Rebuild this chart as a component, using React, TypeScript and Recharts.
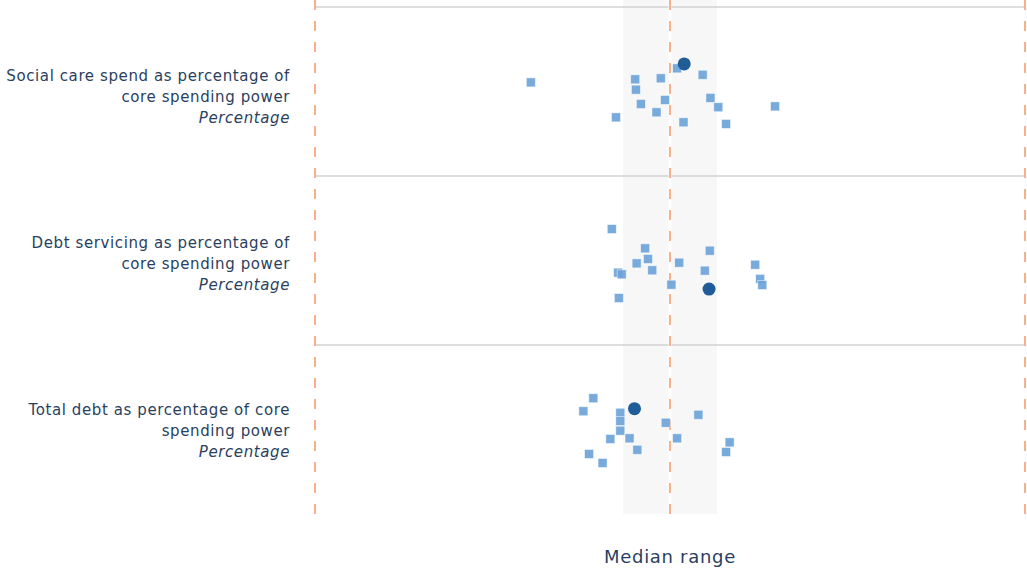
import {
  ScatterChart,
  Scatter,
  XAxis,
  YAxis,
  ReferenceArea,
  ReferenceLine,
} from 'recharts';

// row labels (top to bottom)
const rowLabels = [
  ['Social care spend as percentage of', 'core spending power'],
  ['Debt servicing as percentage of', 'core spending power'],
  ['Total debt as percentage of core', 'spending power'],
];
const unitLabel = 'Percentage';

// x on a 0..100 scale (min .. median .. max), jitter = offset from top of row (0..1)
const socialCareX = [51.0, 30.4, 45.1, 48.7, 54.6, 45.2, 45.9, 49.3, 55.7, 56.8, 64.8, 48.1, 42.4, 51.9, 57.9];
const socialCareJitter = [0.363, 0.446, 0.428, 0.422, 0.401, 0.489, 0.574, 0.55, 0.538, 0.593, 0.588, 0.623, 0.653, 0.682, 0.692];
const debtServicingX = [41.8, 46.5, 55.6, 46.9, 45.3, 51.3, 47.5, 54.9, 62.0, 42.7, 43.2, 62.7, 63.0, 50.2, 42.8];
const debtServicingJitter = [0.314, 0.428, 0.442, 0.491, 0.517, 0.513, 0.558, 0.56, 0.525, 0.572, 0.582, 0.609, 0.645, 0.643, 0.722];
const totalDebtX = [39.2, 37.8, 43.0, 54.0, 43.0, 49.4, 43.0, 41.6, 44.3, 51.0, 58.4, 45.4, 57.9, 38.6, 40.5];
const totalDebtJitter = [0.315, 0.392, 0.401, 0.413, 0.45, 0.46, 0.507, 0.556, 0.552, 0.552, 0.576, 0.62, 0.633, 0.645, 0.698];

// highlighted authority per row
const highlightX = [52.0, 55.5, 45.0];
const highlightJitter = [0.337, 0.669, 0.377];

const medianLow = 43.4;
const medianHigh = 56.6;

const rowCount = 3;
const toPoints = (xs: number[], js: number[], row: number) =>
  xs.map((x, i) => ({ x, y: rowCount - row - js[i] }));

const others = [
  ...toPoints(socialCareX, socialCareJitter, 0),
  ...toPoints(debtServicingX, debtServicingJitter, 1),
  ...toPoints(totalDebtX, totalDebtJitter, 2),
];
const highlights = highlightX.map((x, i) => ({ x, y: rowCount - i - highlightJitter[i] }));

const textColor = '#2a3f5f';
const font = '"DejaVu Sans", Verdana, sans-serif';
const labelShift = [-16, -18, -20];

function RowTick(props: any) {
  const { y, payload } = props;
  const row = rowCount - 1 - Math.floor(payload.value);
  const lines = rowLabels[row];
  if (!lines) return null;
  const base = y + labelShift[row];
  const common = {
    x: 290,
    textAnchor: 'end' as const,
    dominantBaseline: 'central' as const,
    fill: textColor,
    fontSize: 15,
    letterSpacing: 0.6,
    fontFamily: font,
  };
  return (
    <g>
      {lines.map((l, i) => (
        <text key={i} {...common} y={base + i * 21}>
          {l}
        </text>
      ))}
      <text {...common} y={base + 42} fontStyle="italic">
        {unitLabel}
      </text>
    </g>
  );
}

const square = (p: any) => (
  <rect x={p.cx - 4.5} y={p.cy - 4.5} width={9} height={9} fill="#6da3d8" fillOpacity={0.92} stroke="#ffffff" strokeOpacity={0.6} strokeWidth={0.8} />
);
const dot = (p: any) => <circle cx={p.cx} cy={p.cy} r={6.5} fill="#1f5c98" />;

export default function App() {
  return (
    <div style={{ position: 'absolute', left: 0, top: 0, width: 1027, height: 572, background: '#fff' }}>
      <ScatterChart width={1027} height={572} margin={{ top: 0, right: 2, bottom: 0, left: 0 }}>
        <XAxis
          type="number"
          dataKey="x"
          domain={[0, 100]}
          height={58}
          axisLine={false}
          tickLine={false}
          tick={false}
          label={{ value: 'Median range', position: 'insideBottom', offset: 9, fill: textColor, fontSize: 18, letterSpacing: 0.7, fontFamily: font }}
        />
        <YAxis
          type="number"
          dataKey="y"
          domain={[0, rowCount + 7 / 169]}
          width={315}
          ticks={[2.5, 1.5, 0.5]}
          axisLine={false}
          tickLine={false}
          tick={<RowTick />}
        />
        <ReferenceArea x1={medianLow} x2={medianHigh} fill="#f7f7f7" fillOpacity={1} stroke="none" />
        {[1, 2, 3].map((v) => (
          <ReferenceLine key={'h' + v} segment={[{ x: 0, y: v }, { x: 100, y: v }]} stroke="#d2d2d2" strokeWidth={1.5} />
        ))}
        <ReferenceLine x={50} stroke="#ffffff" strokeWidth={3} />
        {[0, 50, 100].map((v) => (
          <ReferenceLine key={'v' + v} x={v} stroke="#f9b08a" strokeWidth={2} strokeDasharray="10 11" />
        ))}
        <Scatter data={others} shape={square} isAnimationActive={false} />
        <Scatter data={highlights} shape={dot} isAnimationActive={false} />
      </ScatterChart>
    </div>
  );
}
